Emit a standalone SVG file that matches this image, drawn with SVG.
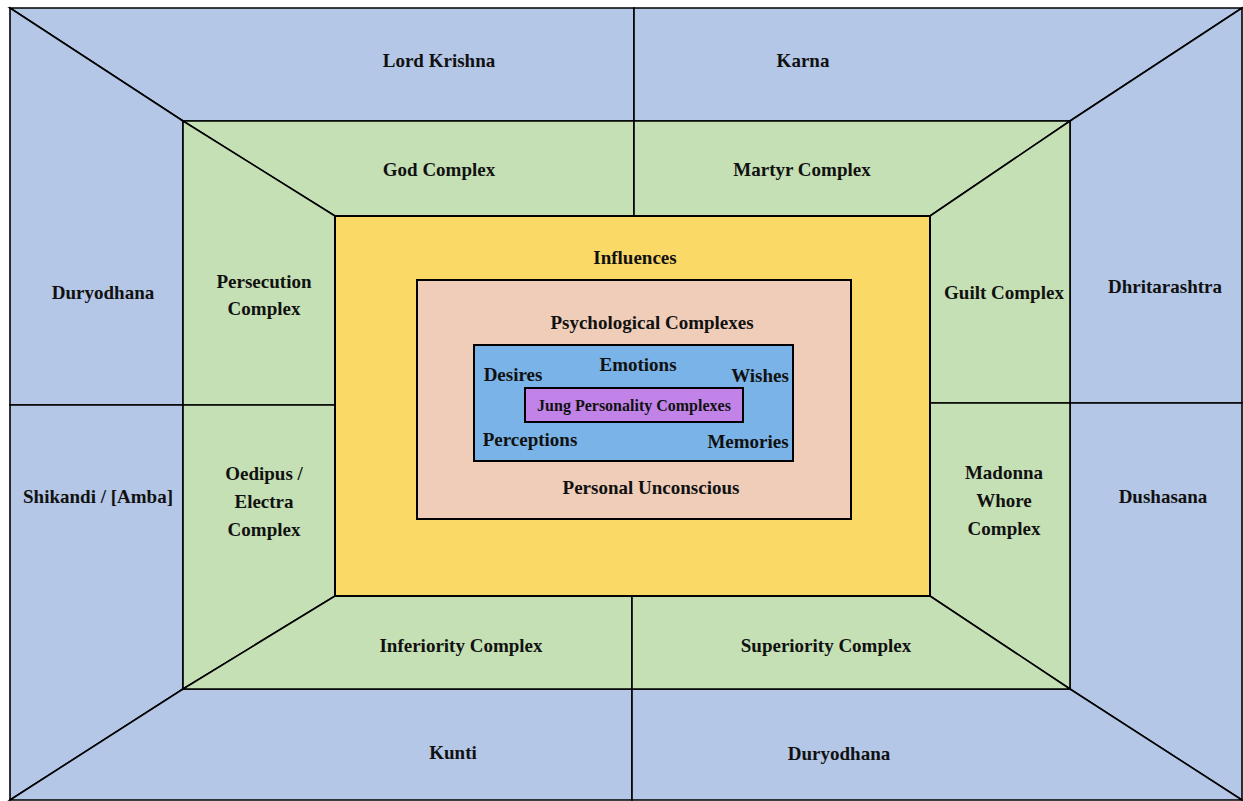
<svg xmlns="http://www.w3.org/2000/svg" width="1243" height="801" viewBox="0 0 1243 801">
<style>
.b{fill:#B4C7E7;stroke:#000;stroke-width:1.6;stroke-linejoin:miter}
.g{fill:#C5E0B4;stroke:#000;stroke-width:1.6;stroke-linejoin:miter}
.box{stroke:#000;stroke-width:2}
text{font-family:"Liberation Serif","Times New Roman",serif;font-weight:bold;font-size:19px;fill:#111;text-anchor:middle}
.s{font-size:16px}
</style>
<rect x="0" y="0" width="1243" height="801" fill="#fff"/>
<g id="blue-top-left"><polygon class="b" points="10,8 634,8 634,121 183,121"/><text x="439" y="67">Lord Krishna</text></g>
<g id="blue-top-right"><polygon class="b" points="634,8 1242,8 1070,121 634,121"/><text x="803" y="67">Karna</text></g>
<g id="blue-left-top"><polygon class="b" points="10,8 183,121 183,405 10,405"/><text x="103" y="299">Duryodhana</text></g>
<g id="blue-left-bottom"><polygon class="b" points="10,405 183,405 183,689 10,800"/><text x="98" y="503">Shikandi / [Amba]</text></g>
<g id="blue-right-top"><polygon class="b" points="1242,8 1242,403 1070,403 1070,121"/><text x="1165" y="293">Dhritarashtra</text></g>
<g id="blue-right-bottom"><polygon class="b" points="1070,403 1242,403 1242,800 1070,689"/><text x="1163" y="503">Dushasana</text></g>
<g id="blue-bottom-left"><polygon class="b" points="10,800 183,689 632,689 632,800"/><text x="453" y="759">Kunti</text></g>
<g id="blue-bottom-right"><polygon class="b" points="632,689 1070,689 1242,800 632,800"/><text x="839" y="760">Duryodhana</text></g>
<g id="green-top-left"><polygon class="g" points="183,121 634,121 634,216 335,216"/><text x="439" y="176">God Complex</text></g>
<g id="green-top-right"><polygon class="g" points="634,121 1070,121 930,216 634,216"/><text x="802" y="176">Martyr Complex</text></g>
<g id="green-left-top"><polygon class="g" points="183,121 335,216 335,405 183,405"/><text x="264" y="288">Persecution</text><text x="264" y="315">Complex</text></g>
<g id="green-left-bottom"><polygon class="g" points="183,405 335,405 335,596 183,689"/><text x="264" y="480">Oedipus /</text><text x="264" y="508">Electra</text><text x="264" y="536">Complex</text></g>
<g id="green-right-top"><polygon class="g" points="1070,121 1070,403 930,403 930,216"/><text x="1004" y="299">Guilt Complex</text></g>
<g id="green-right-bottom"><polygon class="g" points="930,403 1070,403 1070,689 930,596"/><text x="1004" y="479">Madonna</text><text x="1004" y="507">Whore</text><text x="1004" y="535">Complex</text></g>
<g id="green-bottom-left"><polygon class="g" points="183,689 335,596 632,596 632,689"/><text x="461" y="652">Inferiority Complex</text></g>
<g id="green-bottom-right"><polygon class="g" points="632,596 930,596 1070,689 632,689"/><text x="826" y="652">Superiority Complex</text></g>
<g id="influences"><rect class="box" x="335" y="216" width="595" height="380" fill="#FBD966"/><text x="635" y="264">Influences</text></g>
<g id="personal-unconscious"><rect class="box" x="417" y="280" width="434" height="239" fill="#F0CDB9"/><text x="652" y="329">Psychological Complexes</text><text x="651" y="494">Personal Unconscious</text></g>
<g id="emotions-box"><rect class="box" x="474" y="345" width="319" height="116" fill="#79B3E8"/><text x="638" y="371">Emotions</text><text x="513" y="381">Desires</text><text x="760" y="382">Wishes</text><text x="530" y="446">Perceptions</text><text x="748" y="448">Memories</text></g>
<g id="jung"><rect class="box" x="525" y="388" width="218" height="34" fill="#C283E9"/><text class="s" x="634" y="411">Jung Personality Complexes</text></g>
</svg>
